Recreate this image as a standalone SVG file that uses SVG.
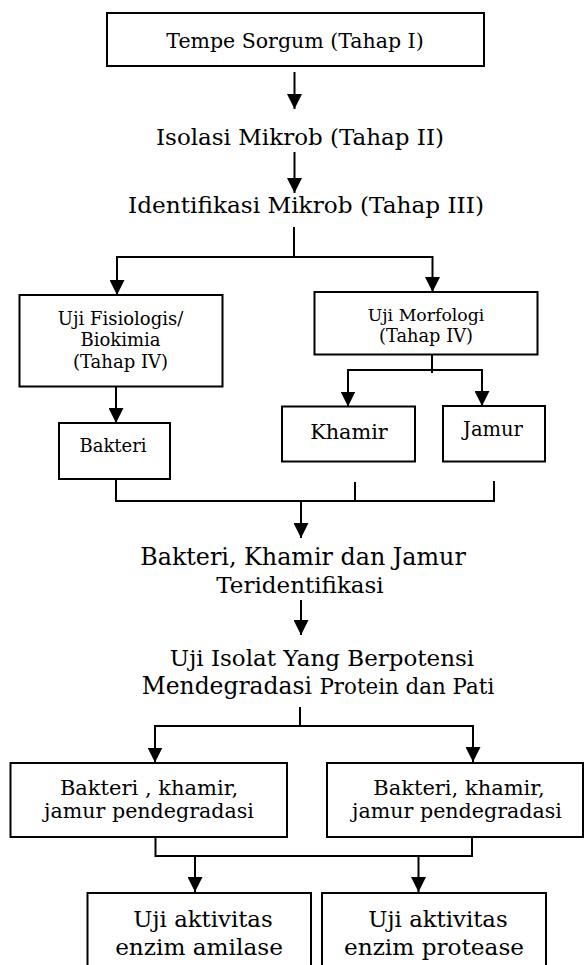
<svg xmlns="http://www.w3.org/2000/svg" width="586" height="965" viewBox="0 0 586 965">
<defs>
<style>
.box{fill:#fff;stroke:#000;stroke-width:2}
.ln{fill:none;stroke:#000;stroke-width:2}
.t{font-family:"DejaVu Serif","Liberation Serif",serif;fill:#000;text-anchor:middle}
</style>
<marker id="ah" markerUnits="userSpaceOnUse" markerWidth="15" markerHeight="15" viewBox="0 0 15 15" refX="15" refY="7.5" orient="auto">
<path d="M0,0 L15,7.5 L0,15 Z" fill="#000"/>
</marker>
</defs>
<rect width="586" height="965" fill="#fff"/>
<g id="connectors">
<path class="ln" d="M294.5,72 V109" marker-end="url(#ah)"/>
<path class="ln" d="M294.5,152 V193" marker-end="url(#ah)"/>
<path class="ln" d="M294,227 V257"/>
<path class="ln" d="M117,257 H432.5"/>
<path class="ln" d="M117,256 V295" marker-end="url(#ah)"/>
<path class="ln" d="M432.5,256 V292" marker-end="url(#ah)"/>
<path class="ln" d="M116,387 V423" marker-end="url(#ah)"/>
<path class="ln" d="M432,355 V373"/>
<path class="ln" d="M348,370 H482"/>
<path class="ln" d="M348,369 V406.5" marker-end="url(#ah)"/>
<path class="ln" d="M482,369 V406" marker-end="url(#ah)"/>
<path class="ln" d="M116,479 V501"/>
<path class="ln" d="M355,482 V501"/>
<path class="ln" d="M494,481 V501"/>
<path class="ln" d="M115,501 H495"/>
<path class="ln" d="M301,501 V538" marker-end="url(#ah)"/>
<path class="ln" d="M301,600 V635" marker-end="url(#ah)"/>
<path class="ln" d="M300,707 V726"/>
<path class="ln" d="M155,726 H473"/>
<path class="ln" d="M155,725 V762.5" marker-end="url(#ah)"/>
<path class="ln" d="M473,725 V762" marker-end="url(#ah)"/>
<path class="ln" d="M155.5,837 V856 H472 V837"/>
<path class="ln" d="M195,856 V892" marker-end="url(#ah)"/>
<path class="ln" d="M418.5,856 V892" marker-end="url(#ah)"/>
</g>
<g id="tempe">
<rect class="box" x="107" y="13" width="377" height="53"/>
<text class="t" x="295" y="48" font-size="20.5">Tempe Sorgum (Tahap I)</text>
</g>
<g id="isolasi">
<text class="t" x="300" y="145" font-size="23">Isolasi Mikrob (Tahap II)</text>
</g>
<g id="identifikasi">
<text class="t" x="306" y="213" font-size="23.2">Identifikasi Mikrob (Tahap III)</text>
</g>
<g id="fisiologis">
<rect class="box" x="19.5" y="295" width="203" height="91.5"/>
<text class="t" x="120.5" y="325" font-size="18">Uji Fisiologis/</text>
<text class="t" x="120.5" y="346" font-size="18">Biokimia</text>
<text class="t" x="120.5" y="368" font-size="18">(Tahap IV)</text>
</g>
<g id="morfologi">
<rect class="box" x="314.5" y="292" width="223" height="62.5"/>
<text class="t" x="426" y="321" font-size="17.3">Uji Morfologi</text>
<text class="t" x="426" y="342" font-size="17.8">(Tahap IV)</text>
</g>
<g id="bakteri">
<rect class="box" x="59" y="423" width="111" height="56"/>
<text class="t" x="113" y="452" font-size="18">Bakteri</text>
</g>
<g id="khamir">
<rect class="box" x="282" y="406.5" width="133" height="55"/>
<text class="t" x="349" y="439" font-size="20.8">Khamir</text>
</g>
<g id="jamur">
<rect class="box" x="443" y="406" width="102" height="55.5"/>
<text class="t" x="493" y="436" font-size="19.5">Jamur</text>
</g>
<g id="teridentifikasi">
<text class="t" x="303" y="565" font-size="23.8">Bakteri, Khamir dan Jamur</text>
<text class="t" x="300" y="593" font-size="23">Teridentifikasi</text>
</g>
<g id="uji-isolat">
<text class="t" x="322" y="666" font-size="23">Uji Isolat Yang Berpotensi</text>
<text class="t" x="318" y="694" font-size="23.4">Mendegradasi <tspan font-size="21.4">Protein dan Pati</tspan></text>
</g>
<g id="degradasi-kiri">
<rect class="box" x="10.5" y="763" width="276.5" height="74"/>
<text class="t" x="149" y="795" font-size="21">Bakteri , khamir,</text>
<text class="t" x="149" y="818" font-size="20.6">jamur pendegradasi</text>
</g>
<g id="degradasi-kanan">
<rect class="box" x="327" y="763" width="256" height="74"/>
<text class="t" x="459" y="795" font-size="21">Bakteri, khamir,</text>
<text class="t" x="457" y="818" font-size="20.6">jamur pendegradasi</text>
</g>
<g id="amilase">
<rect class="box" x="87.5" y="893" width="223.5" height="90"/>
<text class="t" x="203" y="927" font-size="22.8">Uji aktivitas</text>
<text class="t" x="199" y="955" font-size="23.2">enzim amilase</text>
</g>
<g id="protease">
<rect class="box" x="322" y="893" width="224" height="90"/>
<text class="t" x="438" y="927" font-size="22.8">Uji aktivitas</text>
<text class="t" x="434" y="955" font-size="23.2">enzim protease</text>
</g>
</svg>
